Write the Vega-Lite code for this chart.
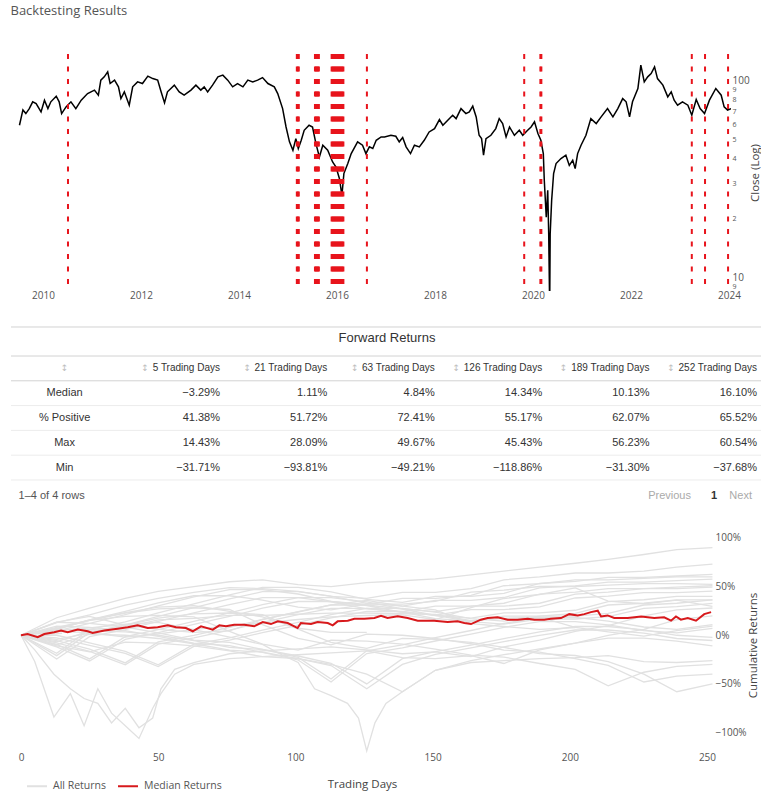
{
"$schema": "https://vega.github.io/schema/vega-lite/v6.json",
"padding": {"left": 10, "top": 5, "right": 0, "bottom": 0},
"background": "white",
"title": {"text": "Backtesting Results", "anchor": "start", "font": "Open Sans", "fontSize": 13, "fontWeight": "normal", "color": "#555", "offset": 35},
"config": {"view": {"stroke": null}, "font": "Open Sans",
  "axis": {"grid": false, "domain": false, "ticks": false, "labelColor": "#555", "titleColor": "#444", "titleFontWeight": "normal", "labelFont": "Open Sans", "titleFont": "Open Sans"},
  "text": {"font": "Liberation Sans"}},
"spacing": 16,
"bounds": "flush",
"resolve": {"scale": {"color": "independent"}, "legend": {"color": "independent"}},
"datasets": {
"price": [
{"t":2009.52,"c":59.4},{"t":2009.59,"c":71.1},{"t":2009.65,"c":68.1},{"t":2009.72,"c":72.2},{"t":2009.79,"c":78.2},{"t":2009.86,"c":76.6},{"t":2009.96,"c":69.5},{"t":2010.03,"c":79.7},{"t":2010.10,"c":72.2},{"t":2010.16,"c":78.2},{"t":2010.27,"c":83.5},{"t":2010.33,"c":78.2},{"t":2010.38,"c":68.1},{"t":2010.47,"c":73.7},{"t":2010.57,"c":78.2},{"t":2010.67,"c":72.2},{"t":2010.78,"c":79.7},{"t":2010.91,"c":86.1},{"t":2011.05,"c":89.7},{"t":2011.13,"c":84.5},{"t":2011.18,"c":100.8},{"t":2011.25,"c":104.8},{"t":2011.32,"c":111.1},{"t":2011.37,"c":96.9},{"t":2011.46,"c":100.8},{"t":2011.54,"c":93.2},{"t":2011.59,"c":81.2},{"t":2011.66,"c":87.9},{"t":2011.76,"c":75.2},{"t":2011.83,"c":93.2},{"t":2011.93,"c":98.8},{"t":2012.03,"c":96.9},{"t":2012.14,"c":105.7},{"t":2012.24,"c":102.7},{"t":2012.34,"c":100.8},{"t":2012.41,"c":87.9},{"t":2012.48,"c":77.2},{"t":2012.54,"c":87.9},{"t":2012.68,"c":95.1},{"t":2012.78,"c":87.9},{"t":2012.88,"c":84.5},{"t":2013.02,"c":89.7},{"t":2013.12,"c":95.1},{"t":2013.22,"c":89.7},{"t":2013.29,"c":93.2},{"t":2013.36,"c":87.9},{"t":2013.46,"c":95.1},{"t":2013.57,"c":104.8},{"t":2013.67,"c":106.9},{"t":2013.77,"c":100.8},{"t":2013.87,"c":93.2},{"t":2013.97,"c":96.9},{"t":2014.08,"c":93.2},{"t":2014.18,"c":100.8},{"t":2014.28,"c":98.8},{"t":2014.38,"c":100.8},{"t":2014.48,"c":103.9},{"t":2014.59,"c":96.9},{"t":2014.72,"c":93.2},{"t":2014.79,"c":86.1},{"t":2014.89,"c":72.2},{"t":2014.96,"c":58.2},{"t":2015.03,"c":48.9},{"t":2015.10,"c":44.3},{"t":2015.16,"c":50.8},{"t":2015.21,"c":45.2},{"t":2015.27,"c":49.8},{"t":2015.33,"c":56.0},{"t":2015.43,"c":59.4},{"t":2015.50,"c":58.2},{"t":2015.57,"c":47.9},{"t":2015.64,"c":40.9},{"t":2015.71,"c":47.0},{"t":2015.81,"c":44.3},{"t":2015.91,"c":38.6},{"t":2015.98,"c":36.4},{"t":2016.05,"c":31.7},{"t":2016.10,"c":26.1},{"t":2016.14,"c":33.7},{"t":2016.22,"c":37.9},{"t":2016.29,"c":42.6},{"t":2016.42,"c":48.9},{"t":2016.52,"c":47.0},{"t":2016.59,"c":42.6},{"t":2016.66,"c":46.1},{"t":2016.73,"c":45.2},{"t":2016.80,"c":49.8},{"t":2016.90,"c":51.8},{"t":2016.97,"c":51.8},{"t":2017.10,"c":52.8},{"t":2017.20,"c":52.2},{"t":2017.27,"c":48.9},{"t":2017.34,"c":51.4},{"t":2017.41,"c":46.1},{"t":2017.50,"c":42.6},{"t":2017.58,"c":47.0},{"t":2017.68,"c":46.1},{"t":2017.78,"c":49.8},{"t":2017.88,"c":54.9},{"t":2017.99,"c":57.1},{"t":2018.09,"c":63.5},{"t":2018.16,"c":59.4},{"t":2018.26,"c":63.0},{"t":2018.36,"c":66.8},{"t":2018.43,"c":64.2},{"t":2018.53,"c":72.2},{"t":2018.63,"c":68.1},{"t":2018.70,"c":69.5},{"t":2018.77,"c":74.3},{"t":2018.84,"c":65.5},{"t":2018.90,"c":52.8},{"t":2018.95,"c":50.8},{"t":2018.99,"c":41.8},{"t":2019.04,"c":50.8},{"t":2019.14,"c":52.8},{"t":2019.24,"c":57.1},{"t":2019.31,"c":64.2},{"t":2019.38,"c":60.6},{"t":2019.45,"c":51.8},{"t":2019.52,"c":58.2},{"t":2019.62,"c":52.8},{"t":2019.72,"c":56.0},{"t":2019.79,"c":52.8},{"t":2019.89,"c":56.0},{"t":2019.96,"c":58.2},{"t":2020.03,"c":61.8},{"t":2020.10,"c":53.9},{"t":2020.16,"c":49.8},{"t":2020.21,"c":42.6},{"t":2020.23,"c":31.1},{"t":2020.27,"c":20.2},{"t":2020.30,"c":27.7},{"t":2020.32,"c":16.6},{"t":2020.34,"c":7.0},{"t":2020.35,"c":16.6},{"t":2020.38,"c":24.6},{"t":2020.42,"c":33.7},{"t":2020.47,"c":37.9},{"t":2020.57,"c":40.2},{"t":2020.67,"c":41.8},{"t":2020.74,"c":37.1},{"t":2020.81,"c":39.4},{"t":2020.86,"c":35.7},{"t":2020.91,"c":42.6},{"t":2020.98,"c":47.0},{"t":2021.08,"c":52.8},{"t":2021.18,"c":64.2},{"t":2021.29,"c":60.6},{"t":2021.39,"c":65.5},{"t":2021.52,"c":72.2},{"t":2021.63,"c":65.5},{"t":2021.73,"c":72.2},{"t":2021.83,"c":81.2},{"t":2021.90,"c":78.2},{"t":2021.97,"c":65.5},{"t":2022.03,"c":78.2},{"t":2022.14,"c":91.4},{"t":2022.20,"c":120.3},{"t":2022.27,"c":98.8},{"t":2022.34,"c":104.8},{"t":2022.41,"c":109.0},{"t":2022.48,"c":117.9},{"t":2022.54,"c":102.7},{"t":2022.65,"c":95.1},{"t":2022.75,"c":82.9},{"t":2022.82,"c":87.9},{"t":2022.88,"c":79.7},{"t":2022.95,"c":75.2},{"t":2023.05,"c":78.2},{"t":2023.16,"c":75.2},{"t":2023.24,"c":66.8},{"t":2023.33,"c":80.3},{"t":2023.41,"c":72.2},{"t":2023.50,"c":68.1},{"t":2023.60,"c":79.7},{"t":2023.73,"c":91.4},{"t":2023.84,"c":84.5},{"t":2023.90,"c":73.7},{"t":2023.97,"c":70.9},{"t":2024.04,"c":72.2}
],
"events": [
{"t":2010.51},{"t":2015.18},{"t":2015.20},{"t":2015.22},{"t":2015.55},{"t":2015.57},{"t":2015.59},{"t":2015.61},{"t":2015.63},{"t":2015.89},{"t":2015.91},{"t":2015.93},{"t":2015.95},{"t":2015.97},{"t":2015.99},{"t":2016.01},{"t":2016.03},{"t":2016.05},{"t":2016.07},{"t":2016.09},{"t":2016.11},{"t":2016.13},{"t":2016.61},{"t":2019.82},{"t":2020.15},{"t":2020.17},{"t":2023.24},{"t":2023.51},{"t":2023.98}
],
"tlines": [
{"r":-0.67,"g":"major"},{"r":0.5,"g":"major"},{"r":1.5,"g":"major"},{"r":2.5,"g":"minor"},{"r":3.5,"g":"minor"},{"r":4.5,"g":"minor"},{"r":5.5,"g":"minor"}
],
"heads": [
{"r":1,"c":1,"t":"5 Trading Days"},{"r":1,"c":2,"t":"21 Trading Days"},{"r":1,"c":3,"t":"63 Trading Days"},{"r":1,"c":4,"t":"126 Trading Days"},{"r":1,"c":5,"t":"189 Trading Days"},{"r":1,"c":6,"t":"252 Trading Days"}
],
"labels": [
{"r":2,"c":0,"t":"Median"},{"r":3,"c":0,"t":"% Positive"},{"r":4,"c":0,"t":"Max"},{"r":5,"c":0,"t":"Min"}
],
"cells": [
{"r":2,"c":1,"v":-0.0329},{"r":2,"c":2,"v":0.0111},{"r":2,"c":3,"v":0.0484},{"r":2,"c":4,"v":0.1434},{"r":2,"c":5,"v":0.1013},{"r":2,"c":6,"v":0.1610},
{"r":3,"c":1,"v":0.4138},{"r":3,"c":2,"v":0.5172},{"r":3,"c":3,"v":0.7241},{"r":3,"c":4,"v":0.5517},{"r":3,"c":5,"v":0.6207},{"r":3,"c":6,"v":0.6552},
{"r":4,"c":1,"v":0.1443},{"r":4,"c":2,"v":0.2809},{"r":4,"c":3,"v":0.4967},{"r":4,"c":4,"v":0.4543},{"r":4,"c":5,"v":0.5623},{"r":4,"c":6,"v":0.6054},
{"r":5,"c":1,"v":-0.3171},{"r":5,"c":2,"v":-0.9381},{"r":5,"c":3,"v":-0.4921},{"r":5,"c":4,"v":-1.1886},{"r":5,"c":5,"v":-0.3130},{"r":5,"c":6,"v":-0.3768}
],
"median": [
{"d":0,"v":0},{"d":2.4,"v":1.3},{"d":6.1,"v":-2.0},{"d":8.5,"v":1.3},{"d":12.1,"v":3.1},{"d":14.6,"v":4.8},{"d":17,"v":3.1},{"d":20.7,"v":5.8},{"d":24.3,"v":4.1},{"d":26.1,"v":2.3},{"d":30.4,"v":4.8},{"d":35.2,"v":6.8},{"d":38.9,"v":8.2},{"d":42.5,"v":10.2},{"d":46.2,"v":7.4},{"d":49.8,"v":8.2},{"d":53.5,"v":10.2},{"d":56.5,"v":8.2},{"d":60.1,"v":7.4},{"d":62.6,"v":4.1},{"d":65.6,"v":9.2},{"d":69.9,"v":5.8},{"d":72.3,"v":10.2},{"d":74.7,"v":9.2},{"d":77.7,"v":10.9},{"d":81.4,"v":10.9},{"d":85,"v":9.2},{"d":88.1,"v":13.6},{"d":91.1,"v":11.5},{"d":93.6,"v":14.3},{"d":97.2,"v":12.6},{"d":100.8,"v":7.4},{"d":102,"v":12.6},{"d":105.7,"v":11.5},{"d":108.1,"v":13.6},{"d":111.8,"v":12.6},{"d":113.6,"v":10.2},{"d":115.4,"v":14.3},{"d":119.1,"v":15},{"d":121.5,"v":17},{"d":125.1,"v":17},{"d":128.8,"v":17.7},{"d":131.2,"v":19.9},{"d":133.6,"v":17.7},{"d":137.3,"v":19.4},{"d":140.9,"v":17.7},{"d":144.6,"v":15},{"d":150.6,"v":15},{"d":155.5,"v":13.6},{"d":159.1,"v":14.3},{"d":161.6,"v":12.6},{"d":164,"v":11.5},{"d":167.6,"v":16},{"d":170.1,"v":17.7},{"d":173.7,"v":18.4},{"d":177.4,"v":16},{"d":181,"v":16},{"d":184.7,"v":17},{"d":187.1,"v":16},{"d":190.7,"v":16},{"d":193.1,"v":17},{"d":196.8,"v":17.7},{"d":199.8,"v":21.7},{"d":202.9,"v":20.4},{"d":205.3,"v":21.7},{"d":207.7,"v":23.8},{"d":210.2,"v":25.2},{"d":211.4,"v":19.4},{"d":213.8,"v":20.4},{"d":216.2,"v":17.7},{"d":221.1,"v":17.7},{"d":226,"v":19.4},{"d":230.8,"v":17.7},{"d":234.4,"v":18.4},{"d":236.9,"v":15},{"d":238.7,"v":19.4},{"d":240.5,"v":16},{"d":243,"v":17.7},{"d":246,"v":15},{"d":249,"v":21.7},{"d":251.5,"v":23.8}
],
"returns": [
{"s":1,"d":0,"v":0},{"s":1,"d":13,"v":4.1},{"s":1,"d":25,"v":2.7},{"s":1,"d":38,"v":-2},{"s":1,"d":50,"v":1.4},{"s":1,"d":63,"v":6.1},{"s":1,"d":76,"v":9.5},{"s":1,"d":88,"v":12.8},{"s":1,"d":101,"v":16.2},{"s":1,"d":113,"v":18.9},{"s":1,"d":126,"v":20.3},{"s":1,"d":139,"v":20.9},{"s":1,"d":151,"v":16.2},{"s":1,"d":164,"v":28.4},{"s":1,"d":176,"v":37.8},{"s":1,"d":189,"v":41.9},{"s":1,"d":202,"v":48.6},{"s":1,"d":214,"v":35.1},{"s":1,"d":227,"v":32.4},{"s":1,"d":239,"v":36.2},{"s":1,"d":252,"v":29.7},
{"s":2,"d":0,"v":0},{"s":2,"d":13,"v":-4.2},{"s":2,"d":25,"v":2.1},{"s":2,"d":38,"v":10.4},{"s":2,"d":50,"v":17.7},{"s":2,"d":63,"v":21.9},{"s":2,"d":76,"v":22.9},{"s":2,"d":88,"v":21.3},{"s":2,"d":101,"v":6.3},{"s":2,"d":113,"v":-7.3},{"s":2,"d":126,"v":-13.5},{"s":2,"d":139,"v":-3.1},{"s":2,"d":151,"v":-4.2},{"s":2,"d":164,"v":-7.3},{"s":2,"d":176,"v":-12.5},{"s":2,"d":189,"v":-18.8},{"s":2,"d":202,"v":-20.8},{"s":2,"d":214,"v":-27},{"s":2,"d":227,"v":-40},{"s":2,"d":239,"v":-58},{"s":2,"d":252,"v":-50},
{"s":3,"d":0,"v":0},{"s":3,"d":13,"v":6.5},{"s":3,"d":25,"v":15.2},{"s":3,"d":38,"v":22.8},{"s":3,"d":50,"v":27.2},{"s":3,"d":63,"v":28.3},{"s":3,"d":76,"v":26.5},{"s":3,"d":88,"v":10.9},{"s":3,"d":101,"v":-3.3},{"s":3,"d":113,"v":-9.8},{"s":3,"d":126,"v":1.1},{"s":3,"d":139,"v":0},{"s":3,"d":151,"v":-3.3},{"s":3,"d":164,"v":-8.7},{"s":3,"d":176,"v":-15.2},{"s":3,"d":189,"v":-17.4},{"s":3,"d":202,"v":-24},{"s":3,"d":214,"v":-31},{"s":3,"d":227,"v":-48},{"s":3,"d":239,"v":-42},{"s":3,"d":252,"v":-40},
{"s":4,"d":0,"v":0},{"s":4,"d":13,"v":8.2},{"s":4,"d":25,"v":15.3},{"s":4,"d":38,"v":19.4},{"s":4,"d":50,"v":20.4},{"s":4,"d":63,"v":18.8},{"s":4,"d":76,"v":4.1},{"s":4,"d":88,"v":-9.2},{"s":4,"d":101,"v":-15.3},{"s":4,"d":113,"v":-5.1},{"s":4,"d":126,"v":-6.1},{"s":4,"d":139,"v":-9.2},{"s":4,"d":151,"v":-14.3},{"s":4,"d":164,"v":-20.4},{"s":4,"d":176,"v":-22.4},{"s":4,"d":189,"v":-29},{"s":4,"d":202,"v":-35},{"s":4,"d":214,"v":-52},{"s":4,"d":227,"v":-38},{"s":4,"d":239,"v":-32},{"s":4,"d":252,"v":-30},
{"s":5,"d":0,"v":0},{"s":5,"d":13,"v":-11},{"s":5,"d":25,"v":-17},{"s":5,"d":38,"v":-7},{"s":5,"d":50,"v":-8},{"s":5,"d":63,"v":-11},{"s":5,"d":76,"v":-16},{"s":5,"d":88,"v":-22},{"s":5,"d":101,"v":-24},{"s":5,"d":113,"v":-30},{"s":5,"d":126,"v":-40},{"s":5,"d":139,"v":-58},{"s":5,"d":151,"v":-36},{"s":5,"d":164,"v":-26},{"s":5,"d":176,"v":-20},{"s":5,"d":189,"v":-14},{"s":5,"d":202,"v":-8},{"s":5,"d":214,"v":-3},{"s":5,"d":227,"v":-3},{"s":5,"d":239,"v":-6},{"s":5,"d":252,"v":-11},
{"s":6,"d":0,"v":0},{"s":6,"d":13,"v":-9.8},{"s":6,"d":25,"v":1.1},{"s":6,"d":38,"v":0},{"s":6,"d":50,"v":-3.3},{"s":6,"d":63,"v":-8.7},{"s":6,"d":76,"v":-15.2},{"s":6,"d":88,"v":-17.4},{"s":6,"d":101,"v":-23.9},{"s":6,"d":113,"v":-31.1},{"s":6,"d":126,"v":-55},{"s":6,"d":139,"v":-30},{"s":6,"d":151,"v":-19.6},{"s":6,"d":164,"v":-13},{"s":6,"d":176,"v":-6.5},{"s":6,"d":189,"v":0},{"s":6,"d":202,"v":5.4},{"s":6,"d":214,"v":5.4},{"s":6,"d":227,"v":2.2},{"s":6,"d":239,"v":-3.3},{"s":6,"d":252,"v":-5.4},
{"s":7,"d":0,"v":0},{"s":7,"d":13,"v":-6.7},{"s":7,"d":25,"v":4.5},{"s":7,"d":38,"v":3.4},{"s":7,"d":50,"v":0},{"s":7,"d":63,"v":-5.6},{"s":7,"d":76,"v":-12.4},{"s":7,"d":88,"v":-14.6},{"s":7,"d":101,"v":-21.3},{"s":7,"d":113,"v":-28.8},{"s":7,"d":126,"v":-50},{"s":7,"d":139,"v":-24},{"s":7,"d":151,"v":-16.9},{"s":7,"d":164,"v":-10.1},{"s":7,"d":176,"v":-3.4},{"s":7,"d":189,"v":3.4},{"s":7,"d":202,"v":9},{"s":7,"d":214,"v":9},{"s":7,"d":227,"v":5.6},{"s":7,"d":239,"v":0},{"s":7,"d":252,"v":-2.2},
{"s":8,"d":0,"v":0},{"s":8,"d":13,"v":9.4},{"s":8,"d":25,"v":8.2},{"s":8,"d":38,"v":4.7},{"s":8,"d":50,"v":-1.2},{"s":8,"d":63,"v":-8.2},{"s":8,"d":76,"v":-10.6},{"s":8,"d":88,"v":-17.6},{"s":8,"d":101,"v":-25.4},{"s":8,"d":113,"v":-48},{"s":8,"d":126,"v":-18.8},{"s":8,"d":139,"v":-12.9},{"s":8,"d":151,"v":-5.9},{"s":8,"d":164,"v":1.2},{"s":8,"d":176,"v":8.2},{"s":8,"d":189,"v":14.1},{"s":8,"d":202,"v":14.1},{"s":8,"d":214,"v":10.6},{"s":8,"d":227,"v":4.7},{"s":8,"d":239,"v":2.4},{"s":8,"d":252,"v":7.1},
{"s":9,"d":0,"v":0},{"s":9,"d":13,"v":13.4},{"s":9,"d":25,"v":12.2},{"s":9,"d":38,"v":8.5},{"s":9,"d":50,"v":2.4},{"s":9,"d":63,"v":-4.9},{"s":9,"d":76,"v":-7.3},{"s":9,"d":88,"v":-14.6},{"s":9,"d":101,"v":-22.7},{"s":9,"d":113,"v":-45},{"s":9,"d":126,"v":-15.9},{"s":9,"d":139,"v":-9.8},{"s":9,"d":151,"v":-2.4},{"s":9,"d":164,"v":4.9},{"s":9,"d":176,"v":12.2},{"s":9,"d":189,"v":18.3},{"s":9,"d":202,"v":18.3},{"s":9,"d":214,"v":14.6},{"s":9,"d":227,"v":8.5},{"s":9,"d":239,"v":6.1},{"s":9,"d":252,"v":11},
{"s":10,"d":0,"v":0},{"s":10,"d":13,"v":-2.6},{"s":10,"d":25,"v":-10.3},{"s":10,"d":38,"v":-18.7},{"s":10,"d":50,"v":-32.1},{"s":10,"d":63,"v":-11.5},{"s":10,"d":76,"v":-5.1},{"s":10,"d":88,"v":2.6},{"s":10,"d":101,"v":10.3},{"s":10,"d":113,"v":17.9},{"s":10,"d":126,"v":24.4},{"s":10,"d":139,"v":24.4},{"s":10,"d":151,"v":20.5},{"s":10,"d":164,"v":14.1},{"s":10,"d":176,"v":11.5},{"s":10,"d":189,"v":16.7},{"s":10,"d":202,"v":16.7},{"s":10,"d":214,"v":19.2},{"s":10,"d":227,"v":27.7},{"s":10,"d":239,"v":29.5},{"s":10,"d":252,"v":32.8},
{"s":11,"d":0,"v":0},{"s":11,"d":13,"v":0},{"s":11,"d":25,"v":-7.9},{"s":11,"d":38,"v":-16.6},{"s":11,"d":50,"v":-30.3},{"s":11,"d":63,"v":-9.2},{"s":11,"d":76,"v":-2.6},{"s":11,"d":88,"v":5.3},{"s":11,"d":101,"v":13.2},{"s":11,"d":113,"v":21.1},{"s":11,"d":126,"v":27.6},{"s":11,"d":139,"v":27.6},{"s":11,"d":151,"v":23.7},{"s":11,"d":164,"v":17.1},{"s":11,"d":176,"v":14.5},{"s":11,"d":189,"v":19.7},{"s":11,"d":202,"v":19.7},{"s":11,"d":214,"v":22.4},{"s":11,"d":227,"v":31.1},{"s":11,"d":239,"v":32.9},{"s":11,"d":252,"v":36.3},
{"s":12,"d":0,"v":0},{"s":12,"d":13,"v":-7.9},{"s":12,"d":25,"v":-16.6},{"s":12,"d":38,"v":-30.3},{"s":12,"d":50,"v":-9.2},{"s":12,"d":63,"v":-2.6},{"s":12,"d":76,"v":5.3},{"s":12,"d":88,"v":13.2},{"s":12,"d":101,"v":21.1},{"s":12,"d":113,"v":27.6},{"s":12,"d":126,"v":27.6},{"s":12,"d":139,"v":23.7},{"s":12,"d":151,"v":17.1},{"s":12,"d":164,"v":14.5},{"s":12,"d":176,"v":19.7},{"s":12,"d":189,"v":19.7},{"s":12,"d":202,"v":22.4},{"s":12,"d":214,"v":31.1},{"s":12,"d":227,"v":32.9},{"s":12,"d":239,"v":36.3},{"s":12,"d":252,"v":36.3},
{"s":13,"d":0,"v":0},{"s":13,"d":13,"v":-5.4},{"s":13,"d":25,"v":-14.3},{"s":13,"d":38,"v":-28.4},{"s":13,"d":50,"v":-6.8},{"s":13,"d":63,"v":0},{"s":13,"d":76,"v":8.1},{"s":13,"d":88,"v":16.2},{"s":13,"d":101,"v":24.3},{"s":13,"d":113,"v":31.1},{"s":13,"d":126,"v":31.1},{"s":13,"d":139,"v":27},{"s":13,"d":151,"v":20.3},{"s":13,"d":164,"v":17.6},{"s":13,"d":176,"v":23},{"s":13,"d":189,"v":23},{"s":13,"d":202,"v":25.7},{"s":13,"d":214,"v":34.6},{"s":13,"d":227,"v":36.5},{"s":13,"d":239,"v":40},{"s":13,"d":252,"v":40},
{"s":14,"d":0,"v":0},{"s":14,"d":13,"v":-11.9},{"s":14,"d":25,"v":-26.4},{"s":14,"d":38,"v":-4.2},{"s":14,"d":50,"v":2.8},{"s":14,"d":63,"v":11.1},{"s":14,"d":76,"v":19.4},{"s":14,"d":88,"v":27.8},{"s":14,"d":101,"v":34.7},{"s":14,"d":113,"v":34.7},{"s":14,"d":126,"v":30.6},{"s":14,"d":139,"v":23.6},{"s":14,"d":151,"v":20.8},{"s":14,"d":164,"v":26.4},{"s":14,"d":176,"v":26.4},{"s":14,"d":189,"v":29.2},{"s":14,"d":202,"v":38.3},{"s":14,"d":214,"v":40.3},{"s":14,"d":227,"v":43.9},{"s":14,"d":239,"v":43.9},{"s":14,"d":252,"v":45.3},
{"s":15,"d":0,"v":0},{"s":15,"d":13,"v":-9.4},{"s":15,"d":25,"v":-24.3},{"s":15,"d":38,"v":-1.4},{"s":15,"d":50,"v":5.7},{"s":15,"d":63,"v":14.3},{"s":15,"d":76,"v":22.9},{"s":15,"d":88,"v":31.4},{"s":15,"d":101,"v":38.6},{"s":15,"d":113,"v":38.6},{"s":15,"d":126,"v":34.3},{"s":15,"d":139,"v":27.1},{"s":15,"d":151,"v":24.3},{"s":15,"d":164,"v":30},{"s":15,"d":176,"v":30},{"s":15,"d":189,"v":32.9},{"s":15,"d":202,"v":42.3},{"s":15,"d":214,"v":44.3},{"s":15,"d":227,"v":48},{"s":15,"d":239,"v":48},{"s":15,"d":252,"v":49.4},
{"s":16,"d":0,"v":0},{"s":16,"d":13,"v":-24.3},{"s":16,"d":25,"v":-1.4},{"s":16,"d":38,"v":5.7},{"s":16,"d":50,"v":14.3},{"s":16,"d":63,"v":22.9},{"s":16,"d":76,"v":31.4},{"s":16,"d":88,"v":38.6},{"s":16,"d":101,"v":38.6},{"s":16,"d":113,"v":34.3},{"s":16,"d":126,"v":27.1},{"s":16,"d":139,"v":24.3},{"s":16,"d":151,"v":30},{"s":16,"d":164,"v":30},{"s":16,"d":176,"v":32.9},{"s":16,"d":189,"v":42.3},{"s":16,"d":202,"v":44.3},{"s":16,"d":214,"v":48},{"s":16,"d":227,"v":48},{"s":16,"d":239,"v":49.4},{"s":16,"d":252,"v":50.9},
{"s":17,"d":0,"v":0},{"s":17,"d":13,"v":-20.9},{"s":17,"d":25,"v":3},{"s":17,"d":38,"v":10.4},{"s":17,"d":50,"v":19.4},{"s":17,"d":63,"v":28.4},{"s":17,"d":76,"v":37.3},{"s":17,"d":88,"v":44.8},{"s":17,"d":101,"v":44.8},{"s":17,"d":113,"v":40.3},{"s":17,"d":126,"v":32.8},{"s":17,"d":139,"v":29.9},{"s":17,"d":151,"v":35.8},{"s":17,"d":164,"v":35.8},{"s":17,"d":176,"v":38.8},{"s":17,"d":189,"v":48.7},{"s":17,"d":202,"v":50.7},{"s":17,"d":214,"v":54.6},{"s":17,"d":227,"v":54.6},{"s":17,"d":239,"v":56.1},{"s":17,"d":252,"v":57.6},
{"s":18,"d":0,"v":0},{"s":18,"d":13,"v":-18.5},{"s":18,"d":25,"v":6.2},{"s":18,"d":38,"v":13.8},{"s":18,"d":50,"v":23.1},{"s":18,"d":63,"v":32.3},{"s":18,"d":76,"v":41.5},{"s":18,"d":88,"v":49.2},{"s":18,"d":101,"v":49.2},{"s":18,"d":113,"v":44.6},{"s":18,"d":126,"v":36.9},{"s":18,"d":139,"v":33.8},{"s":18,"d":151,"v":40},{"s":18,"d":164,"v":40},{"s":18,"d":176,"v":43.1},{"s":18,"d":189,"v":53.2},{"s":18,"d":202,"v":55.4},{"s":18,"d":214,"v":59.4},{"s":18,"d":227,"v":59.4},{"s":18,"d":239,"v":60.9},{"s":18,"d":252,"v":62.5},
{"s":19,"d":0,"v":0},{"s":19,"d":13,"v":18},{"s":19,"d":25,"v":28},{"s":19,"d":38,"v":38},{"s":19,"d":50,"v":45},{"s":19,"d":63,"v":50},{"s":19,"d":76,"v":55},{"s":19,"d":88,"v":57},{"s":19,"d":101,"v":52},{"s":19,"d":113,"v":50},{"s":19,"d":126,"v":54},{"s":19,"d":139,"v":56},{"s":19,"d":151,"v":58},{"s":19,"d":164,"v":62},{"s":19,"d":176,"v":66},{"s":19,"d":189,"v":70},{"s":19,"d":202,"v":74},{"s":19,"d":214,"v":78},{"s":19,"d":227,"v":83},{"s":19,"d":239,"v":88},{"s":19,"d":252,"v":90},
{"s":20,"d":0,"v":0},{"s":20,"d":13,"v":13},{"s":20,"d":25,"v":21},{"s":20,"d":38,"v":31},{"s":20,"d":50,"v":38},{"s":20,"d":63,"v":44},{"s":20,"d":76,"v":49},{"s":20,"d":88,"v":48},{"s":20,"d":101,"v":45},{"s":20,"d":113,"v":40},{"s":20,"d":126,"v":38},{"s":20,"d":139,"v":44},{"s":20,"d":151,"v":44},{"s":20,"d":164,"v":48},{"s":20,"d":176,"v":57},{"s":20,"d":189,"v":60},{"s":20,"d":202,"v":64},{"s":20,"d":214,"v":64},{"s":20,"d":227,"v":66},{"s":20,"d":239,"v":70},{"s":20,"d":252,"v":73},
{"s":21,"d":0,"v":0},{"s":21,"d":13,"v":4.5},{"s":21,"d":25,"v":12.1},{"s":21,"d":38,"v":21.2},{"s":21,"d":50,"v":30.3},{"s":21,"d":63,"v":39.4},{"s":21,"d":76,"v":47},{"s":21,"d":88,"v":47},{"s":21,"d":101,"v":42.4},{"s":21,"d":113,"v":34.8},{"s":21,"d":126,"v":31.8},{"s":21,"d":139,"v":37.9},{"s":21,"d":151,"v":37.9},{"s":21,"d":164,"v":40.9},{"s":21,"d":176,"v":50.9},{"s":21,"d":189,"v":53},{"s":21,"d":202,"v":57},{"s":21,"d":214,"v":57},{"s":21,"d":227,"v":58.5},{"s":21,"d":239,"v":60},{"s":21,"d":252,"v":60},
{"s":22,"d":0,"v":0},{"s":22,"d":13,"v":7.2},{"s":22,"d":25,"v":15.9},{"s":22,"d":38,"v":24.6},{"s":22,"d":50,"v":33.3},{"s":22,"d":63,"v":40.6},{"s":22,"d":76,"v":40.6},{"s":22,"d":88,"v":36.2},{"s":22,"d":101,"v":29},{"s":22,"d":113,"v":26.1},{"s":22,"d":126,"v":31.9},{"s":22,"d":139,"v":31.9},{"s":22,"d":151,"v":34.8},{"s":22,"d":164,"v":44.3},{"s":22,"d":176,"v":46.4},{"s":22,"d":189,"v":50.1},{"s":22,"d":202,"v":50.1},{"s":22,"d":214,"v":51.6},{"s":22,"d":227,"v":53},{"s":22,"d":239,"v":53},{"s":22,"d":252,"v":52.2},
{"s":23,"d":0,"v":0},{"s":23,"d":13,"v":5.8},{"s":23,"d":25,"v":5.8},{"s":23,"d":38,"v":8.1},{"s":23,"d":50,"v":15.8},{"s":23,"d":63,"v":17.4},{"s":23,"d":76,"v":20.5},{"s":23,"d":88,"v":20.5},{"s":23,"d":101,"v":21.6},{"s":23,"d":113,"v":22.8},{"s":23,"d":126,"v":22.8},{"s":23,"d":139,"v":22.1},{"s":23,"d":151,"v":21.4},{"s":23,"d":164,"v":15.1},{"s":23,"d":176,"v":17.4},{"s":23,"d":189,"v":18.6},{"s":23,"d":202,"v":8.1},{"s":23,"d":214,"v":3.5},{"s":23,"d":227,"v":-0.9},{"s":23,"d":239,"v":4.7},{"s":23,"d":252,"v":9.3},
{"s":24,"d":0,"v":0},{"s":24,"d":13,"v":4.7},{"s":24,"d":25,"v":7.5},{"s":24,"d":38,"v":11.3},{"s":24,"d":50,"v":13.2},{"s":24,"d":63,"v":5.7},{"s":24,"d":76,"v":-1.9},{"s":24,"d":88,"v":-9.4},{"s":24,"d":95,"v":-20},{"s":24,"d":101,"v":-28},{"s":24,"d":107,"v":-55},{"s":24,"d":113,"v":-62},{"s":24,"d":119,"v":-70},{"s":24,"d":123,"v":-85},{"s":24,"d":126,"v":-118.9},{"s":24,"d":129,"v":-90},{"s":24,"d":133,"v":-70},{"s":24,"d":139,"v":-58},{"s":24,"d":151,"v":-36},{"s":24,"d":164,"v":-28},{"s":24,"d":176,"v":-26},{"s":24,"d":189,"v":-24},{"s":24,"d":202,"v":-23},{"s":24,"d":214,"v":-21},{"s":24,"d":227,"v":-27},{"s":24,"d":239,"v":-28},{"s":24,"d":252,"v":-26},
{"s":25,"d":0,"v":0},{"s":25,"d":5,"v":-27},{"s":25,"d":12,"v":-84},{"s":25,"d":18,"v":-60},{"s":25,"d":23,"v":-93},{"s":25,"d":28,"v":-55},{"s":25,"d":33,"v":-80},{"s":25,"d":38,"v":-93},{"s":25,"d":43,"v":-106},{"s":25,"d":48,"v":-75},{"s":25,"d":51,"v":-60},{"s":25,"d":56,"v":-40},{"s":25,"d":63,"v":-30},{"s":25,"d":76,"v":-24},{"s":25,"d":88,"v":-22},{"s":25,"d":101,"v":-20},{"s":25,"d":113,"v":-18},{"s":25,"d":126,"v":-16},{"s":25,"d":139,"v":-23},{"s":25,"d":151,"v":-24},{"s":25,"d":164,"v":-21},{"s":25,"d":176,"v":-29},{"s":25,"d":189,"v":-15},{"s":25,"d":202,"v":-8},{"s":25,"d":214,"v":0},{"s":25,"d":227,"v":6},{"s":25,"d":239,"v":16},{"s":25,"d":252,"v":20},
{"s":26,"d":0,"v":0},{"s":26,"d":5,"v":-15},{"s":26,"d":12,"v":-40},{"s":26,"d":18,"v":-55},{"s":26,"d":23,"v":-65},{"s":26,"d":28,"v":-70},{"s":26,"d":33,"v":-90},{"s":26,"d":38,"v":-75},{"s":26,"d":43,"v":-95},{"s":26,"d":48,"v":-85},{"s":26,"d":51,"v":-55},{"s":26,"d":56,"v":-35},{"s":26,"d":63,"v":-28},{"s":26,"d":76,"v":-19},{"s":26,"d":88,"v":-16},{"s":26,"d":101,"v":-14},{"s":26,"d":113,"v":-12},{"s":26,"d":126,"v":-15},{"s":26,"d":139,"v":-19},{"s":26,"d":151,"v":-17},{"s":26,"d":164,"v":-22},{"s":26,"d":176,"v":-12},{"s":26,"d":189,"v":-5},{"s":26,"d":202,"v":4},{"s":26,"d":214,"v":10},{"s":26,"d":227,"v":20},{"s":26,"d":239,"v":26},{"s":26,"d":252,"v":28},
{"s":27,"d":0,"v":0},{"s":27,"d":13,"v":13.4},{"s":27,"d":25,"v":19.4},{"s":27,"d":38,"v":10.4},{"s":27,"d":50,"v":6},{"s":27,"d":63,"v":3},{"s":27,"d":76,"v":4.5},{"s":27,"d":88,"v":16.4},{"s":27,"d":101,"v":23.9},{"s":27,"d":113,"v":31.3},{"s":27,"d":126,"v":35.8},{"s":27,"d":139,"v":29.9},{"s":27,"d":151,"v":26.1},{"s":27,"d":164,"v":11.9},{"s":27,"d":176,"v":9},{"s":27,"d":189,"v":6},{"s":27,"d":202,"v":7.8},
{"s":28,"d":0,"v":0},{"s":28,"d":13,"v":5.8},{"s":28,"d":25,"v":15.9},{"s":28,"d":38,"v":23.2},{"s":28,"d":50,"v":29},{"s":28,"d":63,"v":30.4},{"s":28,"d":76,"v":24.6},{"s":28,"d":88,"v":18.8},{"s":28,"d":101,"v":7.2},{"s":28,"d":113,"v":2.9},{"s":28,"d":126,"v":2.9},
{"s":29,"d":0,"v":0},{"s":29,"d":5,"v":-2},{"s":29,"d":10,"v":1},{"s":29,"d":15,"v":2}
]
},
"vconcat": [
{
 "width": 720, "height": 237,
 "layer": [
  {"data": {"name": "price"},
   "mark": {"type": "line", "color": "#000000", "strokeWidth": 1.5, "clip": true},
   "encoding": {
    "x": {"field": "t", "type": "quantitative", "scale": {"domain": [2009.347, 2024.04], "nice": false, "zero": false},
          "axis": {"values": [2010, 2012, 2014, 2016, 2018, 2020, 2022, 2024], "format": "d", "title": null, "labelFontSize": 10, "labelPadding": -1}},
    "y": {"field": "c", "type": "quantitative", "scale": {"type": "log", "domain": [8.5, 137], "nice": false},
          "axis": {"orient": "right", "values": [9, 10, 20, 30, 40, 50, 60, 70, 80, 90, 100], "labelOverlap": false,
                   "labelExpr": "(datum.value == 10 || datum.value == 100 || datum.value < 10) ? datum.value : datum.value / 10",
                   "labelFontSize": {"condition": {"test": "datum.value == 10 || datum.value == 100", "value": 10}, "value": 7},
                   "labelPadding": 1, "title": "Close (Log)", "titleAngle": 270, "titleBaseline": "top", "titleFontSize": 11.5, "titlePadding": 0}}
   }},
  {"data": {"name": "events"},
   "mark": {"type": "rule", "color": "#e8141c", "strokeWidth": 2, "strokeDash": [5, 7.5]},
   "encoding": {"x": {"field": "t", "type": "quantitative"}}}
 ]
},
{
 "width": 751, "height": 213,
 "layer": [
  {"data": {"name": "tlines"}, "transform": [{"filter": "datum.g == 'major'"}],
   "mark": {"type": "rule", "color": "#d2d2d2", "strokeWidth": 1},
   "encoding": {"y": {"field": "r", "type": "quantitative", "scale": {"domain": [-1.476, 7.113], "nice": false, "zero": false, "reverse": true}, "axis": null}}},
  {"data": {"name": "tlines"}, "transform": [{"filter": "datum.g == 'minor'"}],
   "mark": {"type": "rule", "color": "#ececec", "strokeWidth": 1},
   "encoding": {"y": {"field": "r", "type": "quantitative", "axis": null}}},
  {"data": {"values": [{}]},
   "mark": {"type": "text", "text": "Forward Returns", "fontSize": 13, "color": "#333", "align": "center", "dy": -6},
   "encoding": {"x": {"datum": 2.555, "type": "quantitative", "scale": {"domain": [-0.946, 6.047], "nice": false, "zero": false}, "axis": null},
                "y": {"datum": 0, "type": "quantitative", "axis": null}}},
  {"data": {"name": "heads"},
   "mark": {"type": "text", "align": "right", "fontSize": 10, "color": "#333"},
   "encoding": {"x": {"field": "c", "type": "quantitative", "axis": null}, "y": {"field": "r", "type": "quantitative", "axis": null}, "text": {"field": "t"}}},
  {"data": {"name": "heads"}, "transform": [{"filter": "datum.c == 1"}],
   "mark": {"type": "text", "text": "↕", "font": "DejaVu Sans", "align": "center", "fontSize": 9, "color": "#bdbdbd", "dx": -75},
   "encoding": {"x": {"field": "c", "type": "quantitative", "axis": null}, "y": {"field": "r", "type": "quantitative", "axis": null}}},
  {"data": {"name": "heads"}, "transform": [{"filter": "datum.c == 2 || datum.c == 3"}],
   "mark": {"type": "text", "text": "↕", "font": "DejaVu Sans", "align": "center", "fontSize": 9, "color": "#bdbdbd", "dx": -80},
   "encoding": {"x": {"field": "c", "type": "quantitative", "axis": null}, "y": {"field": "r", "type": "quantitative", "axis": null}}},
  {"data": {"name": "heads"}, "transform": [{"filter": "datum.c >= 4"}],
   "mark": {"type": "text", "text": "↕", "font": "DejaVu Sans", "align": "center", "fontSize": 9, "color": "#bdbdbd", "dx": -86},
   "encoding": {"x": {"field": "c", "type": "quantitative", "axis": null}, "y": {"field": "r", "type": "quantitative", "axis": null}}},
  {"data": {"values": [{}]},
   "mark": {"type": "text", "text": "↕", "font": "DejaVu Sans", "align": "center", "fontSize": 9, "color": "#bdbdbd", "dx": -48},
   "encoding": {"x": {"datum": 0, "type": "quantitative", "axis": null}, "y": {"datum": 1, "type": "quantitative", "axis": null}}},
  {"data": {"name": "labels"},
   "mark": {"type": "text", "align": "center", "fontSize": 11, "color": "#333", "dx": -48},
   "encoding": {"x": {"field": "c", "type": "quantitative", "axis": null}, "y": {"field": "r", "type": "quantitative", "axis": null}, "text": {"field": "t"}}},
  {"data": {"name": "cells"},
   "mark": {"type": "text", "align": "right", "fontSize": 11, "color": "#333"},
   "encoding": {"x": {"field": "c", "type": "quantitative", "axis": null}, "y": {"field": "r", "type": "quantitative", "axis": null}, "text": {"field": "v", "type": "quantitative", "format": ".2%"}}},
  {"data": {"values": [{}]},
   "mark": {"type": "text", "text": "1–4 of 4 rows", "align": "left", "fontSize": 11, "color": "#555", "dx": -94, "dy": 4},
   "encoding": {"x": {"datum": 0, "type": "quantitative", "axis": null}, "y": {"datum": 6, "type": "quantitative", "axis": null}}},
  {"data": {"values": [{}]},
   "mark": {"type": "text", "text": "Previous", "align": "right", "fontSize": 11, "color": "#aaa", "dx": -66, "dy": 4},
   "encoding": {"x": {"datum": 6, "type": "quantitative", "axis": null}, "y": {"datum": 6, "type": "quantitative", "axis": null}}},
  {"data": {"values": [{}]},
   "mark": {"type": "text", "text": "1", "align": "center", "fontSize": 11, "fontWeight": "bold", "color": "#333", "dx": -43, "dy": 4},
   "encoding": {"x": {"datum": 6, "type": "quantitative", "axis": null}, "y": {"datum": 6, "type": "quantitative", "axis": null}}},
  {"data": {"values": [{}]},
   "mark": {"type": "text", "text": "Next", "align": "right", "fontSize": 11, "color": "#aaa", "dx": -5, "dy": 4},
   "encoding": {"x": {"datum": 6, "type": "quantitative", "axis": null}, "y": {"datum": 6, "type": "quantitative", "axis": null}}}
 ]
},
{
 "width": 702, "height": 218,
 "layer": [
  {"data": {"name": "returns"},
   "mark": {"type": "line", "strokeWidth": 1.3, "clip": true},
   "encoding": {
    "x": {"field": "d", "type": "quantitative", "scale": {"domain": [-3.644, 252.2], "nice": false, "zero": false},
          "axis": {"values": [0, 50, 100, 150, 200, 250], "title": "Trading Days", "titleFontSize": 11.5, "titlePadding": 16, "labelFontSize": 10, "labelPadding": -2}},
    "y": {"field": "v", "type": "quantitative", "scale": {"domain": [-122, 102], "nice": false, "zero": false},
          "axis": {"orient": "right", "values": [-100, -50, 0, 50, 100],
                   "labelExpr": "(datum.value < 0 ? '−' + abs(datum.value) : datum.value) + '%'",
                   "labelFontSize": 10, "labelPadding": 2, "title": "Cumulative Returns", "titleAngle": 270, "titleBaseline": "top", "titleFontSize": 11.5, "titlePadding": 1}},
    "detail": {"field": "s", "type": "nominal"},
    "color": {"datum": "All Returns", "type": "nominal",
              "scale": {"domain": ["All Returns", "Median Returns"], "range": ["#e1e1e1", "#d7191c"]},
              "legend": {"orient": "none", "legendX": 15, "legendY": 239, "direction": "horizontal", "title": null,
                         "symbolType": "stroke", "symbolSize": 400, "symbolStrokeWidth": 2, "labelFontSize": 10.5,
                         "labelColor": "#555", "labelFont": "Open Sans", "columnPadding": 8, "labelOffset": 5}}
   }},
  {"data": {"name": "median"},
   "mark": {"type": "line", "strokeWidth": 2, "clip": true},
   "encoding": {
    "x": {"field": "d", "type": "quantitative"},
    "y": {"field": "v", "type": "quantitative"},
    "color": {"datum": "Median Returns", "type": "nominal"}
   }}
 ]
}
]
}
